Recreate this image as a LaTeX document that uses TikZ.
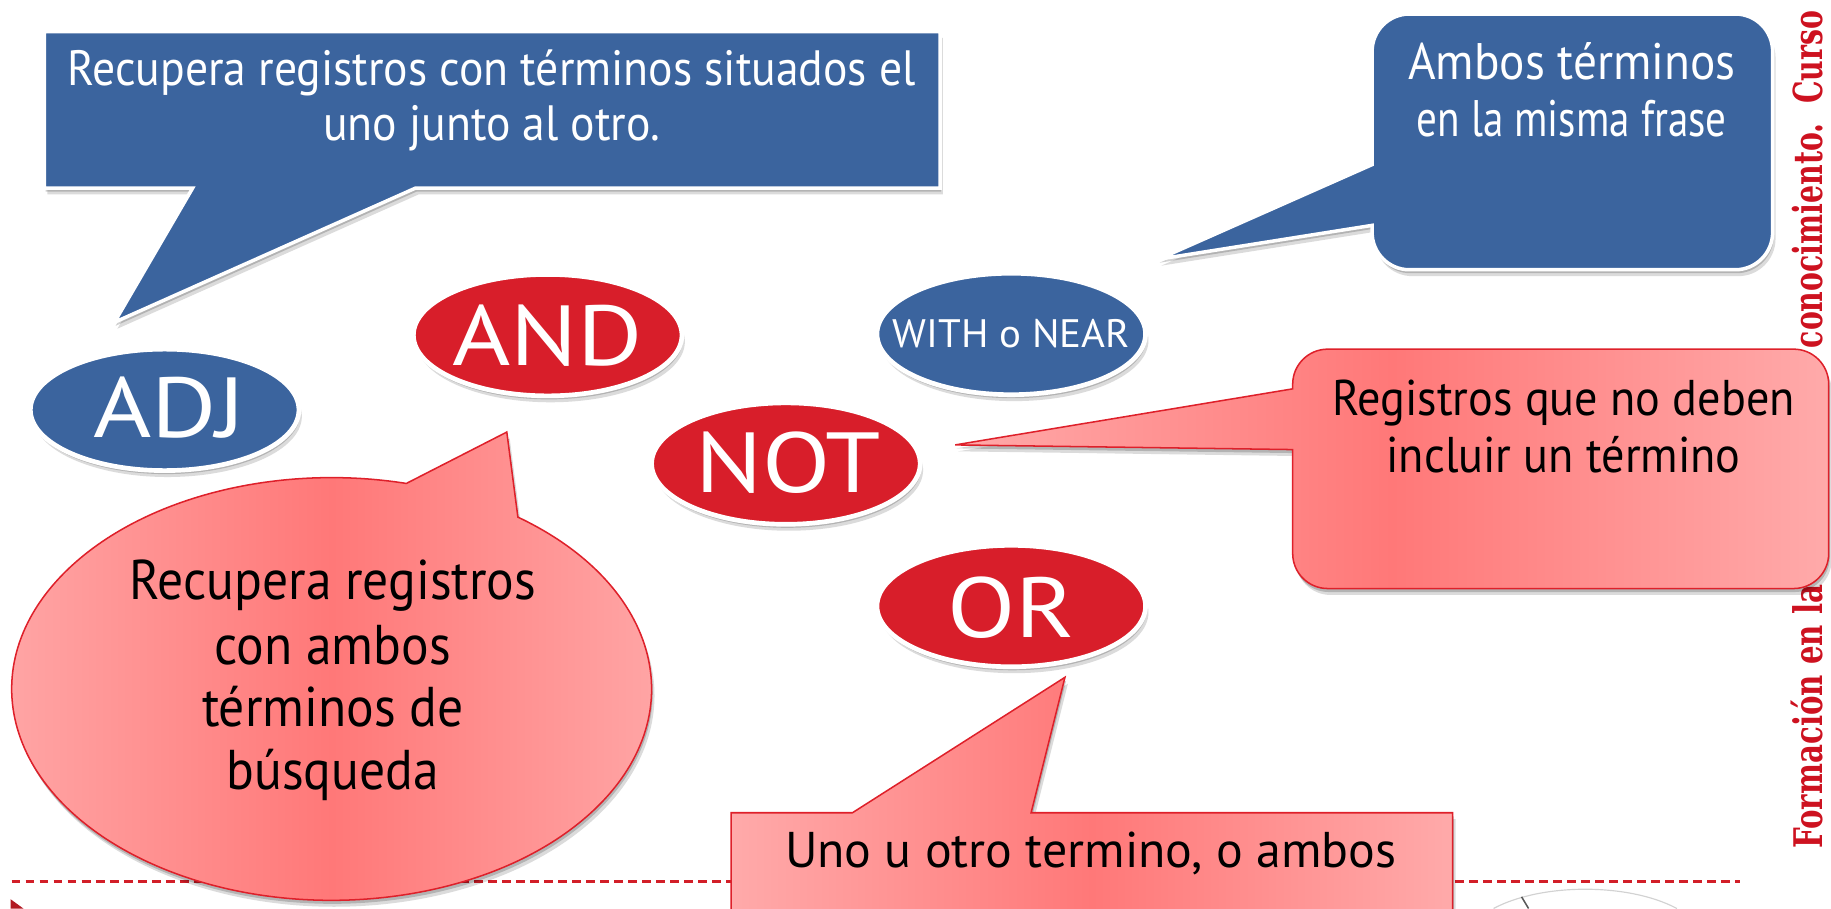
\documentclass[tikz,border=0pt]{standalone}
\usepackage{fontspec}
\setmainfont{PT Sans}
\newfontfamily\gs[FakeStretch=0.92]{PT Sans}
\newfontfamily\gsc[FakeStretch=1.17]{PT Sans}
\newfontfamily\gsw[FakeStretch=1.03]{PT Sans}
\newfontfamily\vfont{DejaVu Serif}
\usetikzlibrary{shadows,calc,shapes.geometric}
\definecolor{bblue}{RGB}{59,100,158}
\definecolor{rred}{RGB}{216,30,42}
\definecolor{pinkM}{RGB}{255,120,120}
\definecolor{pinkL}{RGB}{255,170,170}
\definecolor{pinkB}{RGB}{222,32,42}
\definecolor{dred}{RGB}{210,30,40}
\definecolor{vred}{RGB}{205,18,32}
\begin{document}
\begin{tikzpicture}[x=1pt,y=-1pt,
  shd/.style={drop shadow={shadow xshift=1pt,shadow yshift=-3pt,opacity=0.18,fill=black},
              drop shadow={shadow xshift=2.5pt,shadow yshift=-5.5pt,opacity=0.14,fill=black}},
  bluecall/.style={fill=bblue,draw=white,line width=3pt,line join=miter,shd},
  pinkcall/.style={left color=pinkL,right color=pinkL,middle color=pinkM,draw=pinkB,line width=1.3pt,line join=miter,shd},
  opell/.style={ellipse,minimum width=230pt,minimum height=104pt,inner sep=0pt,draw=white,line width=4pt,shd},
  blueop/.style={opell,fill=bblue},
  redop/.style={opell,fill=rred},
  biglbl/.style={anchor=base,inner sep=0pt,text=white,font=\gsc\fontsize{73}{80}\selectfont},
  smalllbl/.style={anchor=base,inner sep=0pt,text=white,font=\gsw\fontsize{34}{40}\selectfont},
  wline/.style={anchor=base,inner sep=0pt,text=white,font=\gs\fontsize{42.5}{50}\selectfont},
  wlineb/.style={anchor=base,inner sep=0pt,text=white,font=\gs\fontsize{44}{50}\selectfont},
  kline/.style={anchor=base,inner sep=0pt,text=black,font=\gs\fontsize{43}{50}\selectfont},
  kbig/.style={anchor=base,inner sep=0pt,text=black,font=\gs\fontsize{48}{56}\selectfont},
  vtext/.style={inner sep=0pt,text=vred,rotate=90,font=\vfont\bfseries\fontsize{25}{30}\selectfont}]
\useasboundingbox (0,0) rectangle (1568,778);

% vertical footer text on the right
\node[vtext,anchor=south west] (v1) at (1561,727) {\resizebox{226pt}{27pt}{Formación en la}};
\node[vtext,anchor=south east] (v2) at (1561,9) {\resizebox{289pt}{26pt}{conocimiento.\ \ Curso}};

% dashed separator
\coordinate (dl) at (10,755);
\coordinate (dr) at (1490,755);
\draw[dred,line width=2pt,dash pattern=on 7.5pt off 4.5pt] (dl) -- (dr);

% bottom-left marker and logo fragment
\fill[dred!85!black] (9,770) -- (20,778) -- (9,778) -- cycle;
\draw[gray!35,line width=1pt] (1279,778) .. controls (1320,756) and (1395,756) .. (1436,778);
\draw[black!65,line width=1.3pt] (1303,768) -- (1309,778);

% callout A (blue rectangle)
\path[bluecall] (38,27) -- (805,27) -- (805,161) -- (356,161) -- (98,276) -- (165,161) -- (38,161) -- cycle;
\node[wline] (a1) at (421,73) {Recupera registros con términos situados el};
\node[wline] (a2) at (421,120) {uno junto al otro.};

% callout B (blue rounded rectangle)
\path[bluecall] (1207,12) -- (1486,12) arc[start angle=-90,end angle=0,radius=32]
  -- (1518,199) arc[start angle=0,end angle=90,radius=32]
  -- (1207,231) arc[start angle=90,end angle=180,radius=32]
  -- (1175,193) -- (992,222) -- (1175,141)
  -- (1175,44) arc[start angle=180,end angle=270,radius=32] -- cycle;
\node[wlineb] (b1) at (1346,68) {Ambos términos};
\node[wlineb] (b2) at (1346,117) {\scalebox{0.87}[1]{en la misma frase}};

% callout C (pink rounded rectangle)
\path[pinkcall] (1137,299) -- (1536,299) arc[start angle=-90,end angle=0,radius=30]
  -- (1566,474) arc[start angle=0,end angle=90,radius=30]
  -- (1137,504) arc[start angle=90,end angle=180,radius=30]
  -- (1107,385) -- (818,381) -- (1107,333)
  -- (1107,329) arc[start angle=180,end angle=270,radius=30] -- cycle;
\node[kline] (c1) at (1339,356) {Registros que no deben};
\node[kline] (c2) at (1339,405) {incluir un término};

% callout D (pink ellipse)
\coordinate (dc) at (284,590);
\path[pinkcall] (434,370) -- ($(dc)+(-54.4:274 and 181)$)
  arc[start angle=-54.4,end angle=283.5,x radius=274,y radius=181] -- cycle;
\node[kbig] (d1) at (285,513) {Recupera registros};
\node[kbig] (d2) at (285,569) {con ambos};
\node[kbig] (d3) at (285,622) {términos de};
\node[kbig] (d4) at (285,676) {búsqueda};

% callout E (pink rectangle)
\path[pinkcall] (626,696) -- (730,696) -- (912,580) -- (883,696) -- (1244,696) -- (1244,790) -- (626,790) -- cycle;
\node[kline] (e1) at (934,743) {\scalebox{1.08}[1]{Uno u otro termino, o ambos}};

% operator ellipses
\node[blueop] (adj) at (141,351) {};
\node[redop] (and) at (469,287) {};
\node[blueop] (with) at (866,286) {};
\node[redop] (not) at (673,397) {};
\node[redop] (or) at (866,519) {};
\node[biglbl] (adjT) at (145,375) {ADJ};
\node[biglbl] (andT) at (469,313) {AND};
\node[smalllbl] (withT) at (866,298) {WITH o NEAR};
\node[biglbl] (notT) at (675,422) {NOT};
\node[biglbl] (orT) at (866,546) {OR};
\end{tikzpicture}
\end{document}
